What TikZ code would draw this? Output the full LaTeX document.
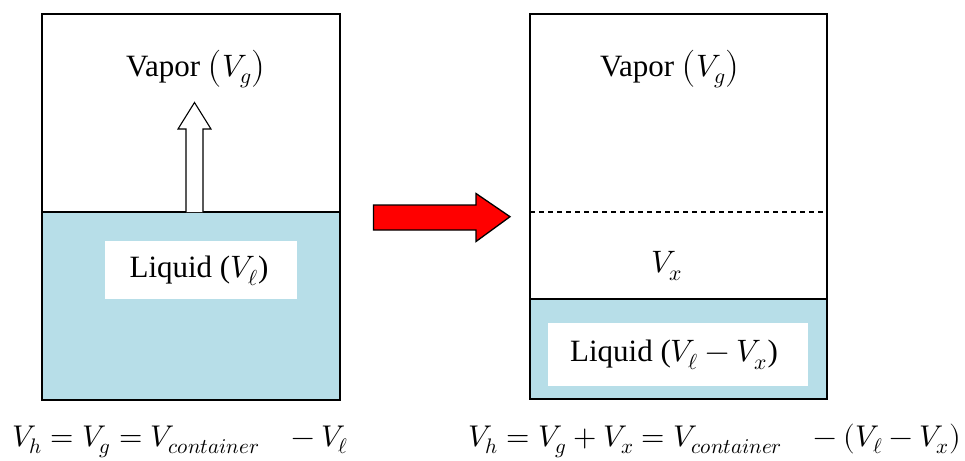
\documentclass[tikz,border=0pt]{standalone}
\usepackage{unicode-math}
\setmainfont{Liberation Serif}
\setmathfont{Latin Modern Math}
\usetikzlibrary{positioning}
\definecolor{liquidblue}{RGB}{183,222,232}
\tikzset{
  boxline/.style={draw=black, line width=1.4pt},
  lbl/.style={font=\fontsize{31}{37}\selectfont, inner sep=0pt, anchor=center},
  eqn/.style={font=\fontsize{30}{36}\selectfont, inner sep=0pt, anchor=base west}
}
\begin{document}
\begin{tikzpicture}[x=1pt,y=-1pt]
\useasboundingbox (0,0) rectangle (965,460);
% ---- left container ----
\fill[liquidblue] (42,212) rectangle (340,400);
\draw[boxline] (42,14) rectangle (340,400);
\draw[boxline] (42,212) -- (340,212);
\fill[white] (105,241) rectangle (297,299);
\node[lbl] (liqL) at (199,271) {Liquid ($V_\ell$)};
\node[lbl] (vapL) at (196,69) {Vapor $\left(V_g\right)$};
% hollow arrow
\draw[line width=1.1pt, fill=white] (186,212) -- (186,129) -- (178,129) -- (194.5,102.5) -- (211,129) -- (203,129) -- (203,212);
% ---- red arrow ----
\draw[line width=1.3pt, fill=red, line join=miter] (373.5,205) -- (476,205) -- (476,193.5) -- (510,216.7) -- (476,241.5) -- (476,230) -- (373.5,230) -- cycle;
% ---- right container ----
\fill[liquidblue] (530,299) rectangle (827,399);
\draw[boxline] (530,14) rectangle (827,399);
\draw[boxline] (530,299) -- (827,299);
\draw[line width=1.1pt, dash pattern=on 5pt off 4pt] (530,212) -- (827,212);
\fill[white] (548,323) rectangle (808,386);
\node[lbl] (liqR) at (674,355) {Liquid ($V_\ell - V_x$)};
\node[lbl] (vapR) at (670,69) {Vapor $\left(V_g\right)$};
\node[lbl] (vx) at (667,266) {$V_x$};
% ---- equations ----
\node[eqn] (eqL) at (12,446) {$V_h = V_g = V_{container}\;\;\; - V_\ell$};
\node[eqn] (eqR) at (468,446) {$V_h = V_g + V_x = V_{container}\;\;\; - (V_\ell - V_x)$};
\end{tikzpicture}
\end{document}
